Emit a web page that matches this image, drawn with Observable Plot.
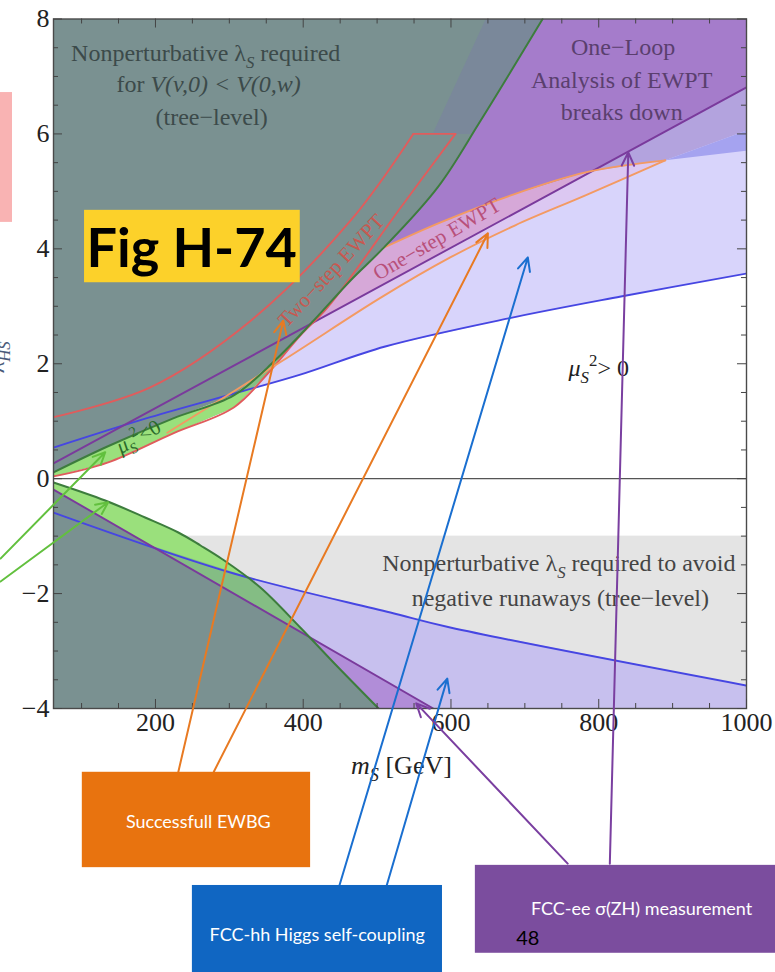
<!DOCTYPE html>
<html><head><meta charset="utf-8">
<script src="https://cdn.jsdelivr.net/npm/d3@7"></script>
<script src="https://cdn.jsdelivr.net/npm/@observablehq/plot@0.6"></script>
<style>body{margin:0;background:#fff}#chart svg{display:block}</style>
</head><body><div id="chart"></div>
<script>
// ---------- data (x = m_S [GeV], y = lambda_HS) ----------
const greenUpper   = [[62,0.11],[135,0.56],[224,1.05],[306,1.45],[362,2.06],[414,2.75],[464,3.45],[509,4.02],[582,5.07],[640,6.23],[724,8.0]];
const greenLower   = [[62,-0.066],[132,-0.38],[186,-0.676],[231,-0.937],[261,-1.163],[291,-1.406],[342,-1.894],[396,-2.590],[441,-3.199],[502,-4.0]];
const redUpper     = [[62,1.07],[193,1.59],[329,2.75],[464,4.49],[549,6.0]];
const redTop       = [[549,6.0],[606,6.0]];
const redLower     = [[606,6.0],[532,4.72],[433,2.98],[396,2.49],[352,1.83],[306,1.24],[224,0.79],[135,0.28],[62,0.04]];
const oneStepUpper = [[509,4.02],[586,4.46],[681,4.93],[782,5.33],[890,5.54]];
const oneStepLower = [[890,5.54],[782,4.93],[687,4.41],[599,3.85],[505,3.15],[373,2.06],[216,0.80]];
const blueUpper    = [[62,0.54],[193,1.07],[306,1.48],[396,1.81],[511,2.30],[678,2.79],[830,3.17],[1000,3.57]];
const blueLower    = [[62,-0.59],[306,-1.65],[518,-2.33],[599,-2.59],[1000,-3.60]];
const purpleUpper  = [[62,0.265],[1000,6.81]];
const purpleLower  = [[62,-0.19],[576,-4.0]];
const runawayBand  = [-4, -1];          // y-range of the light-gray runaway region
const slateBand    = [[647,8],[724,8],[640,6.23],[629,6.0],[575,6.0]];
const oneLoopBand  = [[790,5.345],[890,5.54],[1000,6.06],[1000,6.81]];
const hhWedge      = [[890,5.54],[1000,6.06],[1000,5.71]];
const crossings = { gUpRed:[443,3.16], gUpBlue:[310.6,1.50], blueRed:[332,1.58], gUpPurple:[409,2.69], oneStepPurple:[790,5.345],
                    gLoPurple:[408,-2.76], gLoBlue:[321,-1.69], blueLoPurple:[193,-1.16] };

const xMajor = [200,400,600,800,1000];
const xMinor = [100,150,250,300,350,450,500,550,650,700,750,850,900,950];
const yMajor = [-4,-2,0,2,4,6,8];
const yMinor = [-3.5,-3,-2.5,-1.5,-1,-0.5,0.5,1,1.5,2.5,3,3.5,4.5,5,5.5,6.5,7,7.5];

const arrowsOrange = [{x1:231,y1:-5.10,x2:373,y2:2.75},{x1:279,y1:-5.10,x2:650,y2:4.27}];
const arrowsBlue   = [{x1:449,y1:-7.08,x2:704,y2:3.85},{x1:513,y1:-7.08,x2:595,y2:-3.48}];
const arrowsPurple = [{x1:758,y1:-6.70,x2:553,y2:-3.91},{x1:815,y1:-6.70,x2:840,y2:5.68}];
const arrowsGreen  = [{x1:-9.7,y1:-1.39,x2:132,y2:0.46},{x1:-9.7,y1:-1.79,x2:136,y2:-0.41}];

const boxes = [
  {name:"orange", x1:101, x2:410,  y1:-6.77, y2:-5.11, text:"Successfull EWBG",           tx:258, ty:-5.98},
  {name:"blue",   x1:250, x2:588.5,y1:-8.75, y2:-7.08, text:"FCC-hh Higgs self-coupling", tx:419, ty:-7.95},
  {name:"purple", x1:633, x2:1040, y1:-8.26, y2:-6.73, text:"FCC-ee σ(ZH) measurement",   tx:858, ty:-7.50}
];

// ---------- helpers ----------
const P = pts => pts.map(([x,y]) => ({x,y}));
const SERIF = "'Liberation Serif','Times New Roman',serif";
const SANS = "Lato,'Open Sans',sans-serif";
const poly = (pts, fill) => Plot.line(P(pts), {x:"x", y:"y", fill, stroke:"none", clip:"frame"});
const curve = (pts, stroke, w=1.9) => Plot.line(P(pts), {x:"x", y:"y", stroke, strokeWidth:w, curve:"catmull-rom", clip:"frame"});
const label = (txt, x, y, o={}) => Plot.text([txt], {x:()=>x, y:()=>y, text:d=>d, fontFamily:SERIF, fontSize:24, ...o});
const fmt = d => d < 0 ? "−" + Math.abs(d) : String(d);

const teal = "#7a9191";
const boxColor = {orange:"#e8730f", blue:"#1066c2", purple:"#7b4d9e"};

// polygons built from the arrays
const tealUpper = [...greenUpper, [62,8]];
const tealLower = [...greenLower, [62,-4]];
const lavUpper = [...blueUpper, [1000,8],[62,8]];
const lavLower = [...blueLower, [1000,-4],[62,-4]];
const purUpper = [...purpleUpper, [1000,8],[62,8]];
const purLower = [...purpleLower, [62,-4]];
const oneStepBand = [...greenUpper.slice(0,8), ...oneStepUpper.slice(1), ...oneStepLower.slice(1), ...redLower.slice(7)];
const oneStepAbove = [crossings.gUpPurple, ...greenUpper.slice(5,8), ...oneStepUpper.slice(1,4), crossings.oneStepPurple];
const upMuted = [...greenUpper.slice(0,6), crossings.gUpRed, ...redLower.slice(2)];
const upBright = [...greenUpper.slice(0,4), crossings.gUpBlue, crossings.blueRed, ...redLower.slice(5)];
const loMuted = [...greenLower.slice(0,8), crossings.gLoPurple, purpleLower[0]];
const loBright = [...greenLower.slice(0,6), crossings.gLoBlue, crossings.blueLoPurple, purpleLower[0]];

const tickLen = {maj:0.157, min:0.087, majX:12.2, minX:6.8};

const svg = Plot.plot({
  width:775, height:972,
  marginTop:18.5, marginRight:29, marginBottom:264, marginLeft:53,
  x:{domain:[62,1000], axis:null},
  y:{domain:[-4,8], axis:null},
  style:{fontFamily:SERIF, background:"white", color:"#222"},
  marks:[
    // regions
    Plot.rect([runawayBand], {x1:()=>62, x2:()=>1000, y1:d=>d[0], y2:d=>d[1], fill:"#e4e4e4"}),
    poly(lavUpper, "#d8d4fb"),
    poly(lavLower, "#c7c0ee"),
    poly(purUpper, "#a57ccb"),
    poly(purLower, "#b18dd8"),
    poly(oneLoopBand, "#b3a3de"),
    poly(hhWedge, "#a5a3f0"),
    poly(oneStepBand, "#dcc8f2"),
    poly(oneStepAbove, "#d6a8d8"),
    poly(tealUpper, teal),
    poly(tealLower, teal),
    poly(slateBand, "#7a889a"),
    poly(upMuted, "#86bf84"),
    poly(upBright, "#9ae07c"),
    poly(loMuted, "#84bd84"),
    poly(loBright, "#9ae07c"),
    // boundary curves
    curve(blueUpper, "#4646e2"),
    curve(blueLower, "#4646e2"),
    curve(purpleUpper, "#7a3a9c"),
    curve(purpleLower, "#7a3a9c"),
    curve(redUpper, "#e05c5c"),
    Plot.line(P(redTop), {x:"x", y:"y", stroke:"#e05c5c", strokeWidth:1.9}),
    curve(redLower, "#e05c5c"),
    curve(oneStepUpper, "#f39a62"),
    curve(oneStepLower, "#f39a62"),
    curve(greenUpper, "#3d7d3d", 2),
    curve(greenLower, "#3d7d3d", 2),
    Plot.ruleY([0], {stroke:"#555", strokeWidth:1.4}),
    // frame & ticks (inward, Mathematica style)
    Plot.frame({stroke:"#4a4a4a", strokeWidth:1.4}),
    Plot.ruleX(xMajor, {y1:-4, y2:-4+tickLen.maj, stroke:"#444"}),
    Plot.ruleX(xMajor, {y1:8, y2:8-tickLen.maj, stroke:"#444"}),
    Plot.ruleX(xMinor, {y1:-4, y2:-4+tickLen.min, stroke:"#444"}),
    Plot.ruleX(xMinor, {y1:8, y2:8-tickLen.min, stroke:"#444"}),
    Plot.ruleY(yMajor, {x1:62, x2:62+tickLen.majX, stroke:"#444"}),
    Plot.ruleY(yMajor, {x1:1000, x2:1000-tickLen.majX, stroke:"#444"}),
    Plot.ruleY(yMinor, {x1:62, x2:62+tickLen.minX, stroke:"#444"}),
    Plot.ruleY(yMinor, {x1:1000, x2:1000-tickLen.minX, stroke:"#444"}),
    Plot.axisX(xMajor, {anchor:"bottom", tickSize:0, tickPadding:4, fontSize:26, fontFamily:SERIF, label:null, tickFormat:fmt}),
    Plot.axisY(yMajor, {anchor:"left", tickSize:0, tickPadding:4, fontSize:26, fontFamily:SERIF, label:null, tickFormat:fmt}),
    label("*m*_{S} [GeV]", 533, -4.99, {fontSize:26, fill:"#222"}),
    label("λ_{HS}", -16, 2.11, {rotate:-90, fill:"#4a5a7a"}),
    // region labels
    label("Nonperturbative λ_{S} required", 268, 7.40, {fill:"#3c4a4a"}),
    label("for *V(v,0) < V(0,w)*", 272, 6.86, {fill:"#3c4a4a"}),
    label("(tree−level)", 276, 6.29, {fill:"#3c4a4a"}),
    label("One−Loop", 833, 7.50, {fill:"#5a3f6e"}),
    label("Analysis of EWPT", 831, 6.93, {fill:"#5a3f6e"}),
    label("breaks down", 831, 6.37, {fill:"#5a3f6e"}),
    label("Nonperturbative λ_{S} required to avoid", 746, -1.48, {fill:"#444"}),
    label("negative runaways (tree−level)", 748, -2.09, {fill:"#444"}),
    label("*μ*_{S}^{2}> 0", 800, 1.92, {fill:"#222"}),
    label("*μ*_{S}^{2}<0", 177, 0.73, {fill:"#2a6a2a", rotate:-29, fontSize:21}),
    label("Two−step EWPT", 438, 3.62, {fill:"#c85850", rotate:-47, fontSize:21}),
    label("One−step EWPT", 581, 4.17, {fill:"#b8507a", rotate:-30, fontSize:21}),
    // overlays from the slide
    Plot.rect([{x1:-10,x2:6.5,y1:4.46,y2:6.72}], {x1:"x1", x2:"x2", y1:"y1", y2:"y2", fill:"#f9b3b3"}),
    Plot.rect([{x1:104,x2:396,y1:3.41,y2:4.67}], {x1:"x1", x2:"x2", y1:"y1", y2:"y2", fill:"#fcd12a"}),
    Plot.text(["Fig H-74"], {x:()=>249, y:()=>3.99, text:d=>d, fontFamily:SANS, fontWeight:700, fontSize:54, fill:"#000"}),
    Plot.arrow(arrowsOrange, {x1:"x1", y1:"y1", x2:"x2", y2:"y2", stroke:"#e87a22", strokeWidth:2, headLength:11, headAngle:50}),
    Plot.arrow(arrowsBlue, {x1:"x1", y1:"y1", x2:"x2", y2:"y2", stroke:"#1a6fd0", strokeWidth:2, headLength:11, headAngle:50}),
    Plot.arrow(arrowsPurple, {x1:"x1", y1:"y1", x2:"x2", y2:"y2", stroke:"#7a3fa0", strokeWidth:2, headLength:11, headAngle:50}),
    Plot.arrow(arrowsGreen, {x1:"x1", y1:"y1", x2:"x2", y2:"y2", stroke:"#62c03e", strokeWidth:2, headLength:10, headAngle:50}),
    Plot.rect(boxes, {x1:"x1", x2:"x2", y1:"y1", y2:"y2", fill:d=>boxColor[d.name]}),
    Plot.text(boxes, {x:"tx", y:"ty", text:"text", fill:"white", fontFamily:SANS, fontSize:18}),
    Plot.text(["48"], {x:()=>704, y:()=>-8.0, text:d=>d, fill:"#000", fontFamily:SANS, fontSize:20})
  ]
});
document.getElementById("chart").appendChild(svg);

// rich text: _{sub}, ^{sup}, *italic*
const NS = "http://www.w3.org/2000/svg";
svg.querySelectorAll("text").forEach(t => {
  const s = t.textContent;
  if (t.children.length || !/[_^]\{|\*/.test(s)) return;
  const fs = parseFloat(getComputedStyle(t).fontSize) || 24;
  const parts = s.split(/(_\{[^}]*\}|\^\{[^}]*\}|\*[^*]*\*)/g).filter(p => p !== "");
  t.textContent = "";
  let cur = 0;
  for (const p of parts) {
    const ts = document.createElementNS(NS, "tspan");
    let target = 0, txt = p;
    if (p.startsWith("_{")) { target = 0.28*fs; txt = p.slice(2,-1); ts.setAttribute("font-size", 0.7*fs); ts.setAttribute("font-style","italic"); }
    else if (p.startsWith("^{")) { target = -0.42*fs; txt = p.slice(2,-1); ts.setAttribute("font-size", 0.7*fs); }
    else if (p.startsWith("*")) { txt = p.slice(1,-1); ts.setAttribute("font-style","italic"); }
    if (target !== cur) ts.setAttribute("dy", target - cur);
    cur = target;
    ts.textContent = txt;
    t.appendChild(ts);
  }
});
</script></body></html>
